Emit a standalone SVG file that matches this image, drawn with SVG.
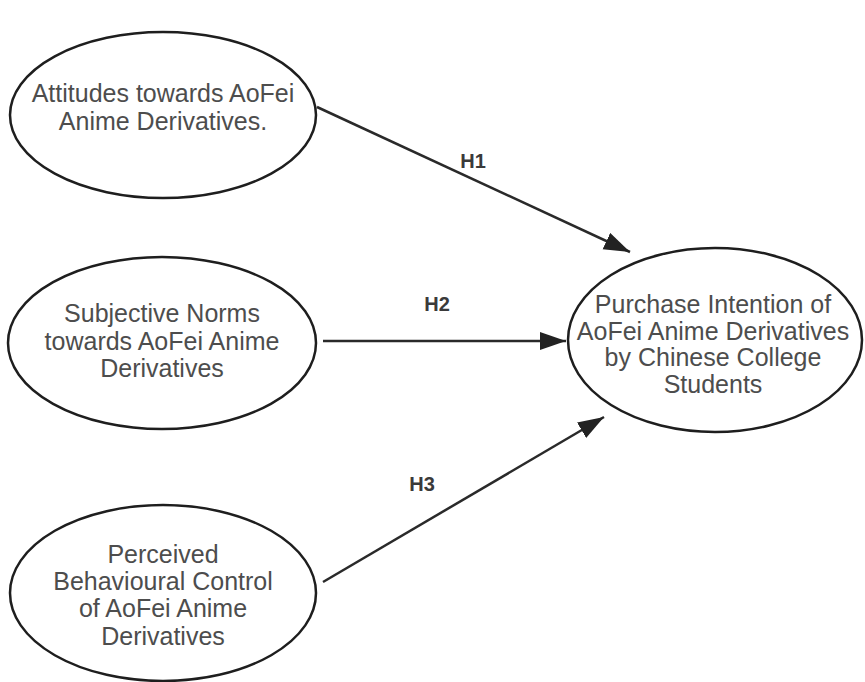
<svg xmlns="http://www.w3.org/2000/svg" width="865" height="682" viewBox="0 0 865 682">
<defs>
<style>
.node ellipse{fill:#fff;stroke:#1e1e1e;stroke-width:2.5}
.node text{font-family:"Liberation Sans",Arial,sans-serif;font-size:25px;fill:#4d4d4d;text-anchor:middle}
.edge line{stroke:#2a2a2a;stroke-width:2.5}
.lbl{font-family:"Liberation Sans",Arial,sans-serif;font-size:20px;font-weight:bold;fill:#3a3a3a;text-anchor:middle}
</style>
<marker id="arr" markerUnits="userSpaceOnUse" markerWidth="28" markerHeight="20" refX="26" refY="9" orient="auto">
<path d="M0,0 L26,9 L0,18 z" fill="#222"/>
</marker>
</defs>
<rect width="865" height="682" fill="#fff"/>
<g id="connectors" class="edge">
<line x1="317" y1="107" x2="630" y2="252" marker-end="url(#arr)"/>
<line x1="323" y1="341" x2="566" y2="341" marker-end="url(#arr)"/>
<line x1="323" y1="582" x2="604" y2="417" marker-end="url(#arr)"/>
<text class="lbl" x="473" y="168">H1</text>
<text class="lbl" x="437" y="311">H2</text>
<text class="lbl" x="422" y="491">H3</text>
</g>
<g id="attitudes" class="node">
<ellipse cx="163" cy="115" rx="153" ry="83"/>
<text x="163" y="102">Attitudes towards AoFei</text>
<text x="163" y="130">Anime Derivatives.</text>
</g>
<g id="norms" class="node">
<ellipse cx="162" cy="343" rx="154" ry="86"/>
<text x="162" y="322">Subjective Norms</text>
<text x="162" y="350">towards AoFei Anime</text>
<text x="162" y="377">Derivatives</text>
</g>
<g id="control" class="node">
<ellipse cx="163" cy="593" rx="153" ry="88"/>
<text x="163" y="563">Perceived</text>
<text x="163" y="590">Behavioural Control</text>
<text x="163" y="617">of AoFei Anime</text>
<text x="163" y="645">Derivatives</text>
</g>
<g id="intention" class="node">
<ellipse cx="715" cy="340" rx="147" ry="92"/>
<text x="713" y="313">Purchase Intention of</text>
<text x="713" y="340">AoFei Anime Derivatives</text>
<text x="713" y="366">by Chinese College</text>
<text x="713" y="393">Students</text>
</g>
</svg>
